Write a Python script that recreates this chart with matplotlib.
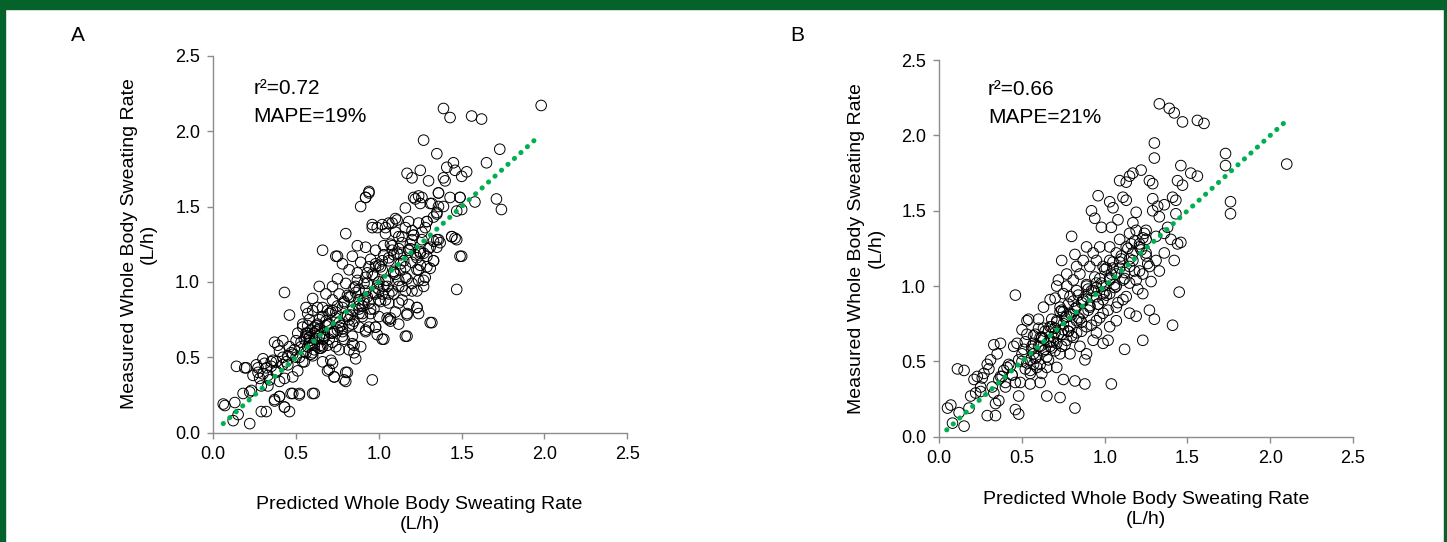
import matplotlib
matplotlib.use('Agg')
import matplotlib.pyplot as plt
from matplotlib.patches import Rectangle

plt.rcParams['font.family'] = ['Liberation Sans', 'DejaVu Sans']

# panel A: predicted vs measured (L/h)
pred_a = [1.39, 1.43, 1.56, 1.62, 1.98, 1.27, 1.73, 1.35, 1.65, 1.45, 1.41, 1.46, 1.53, 1.50,
          1.17, 1.25, 1.20, 1.30, 1.39, 1.40, 1.36, 1.43, 1.49, 1.71, 1.74, 1.58, 1.50, 1.22,
          1.26, 1.25, 1.31, 1.16, 1.36, 1.35, 1.33, 0.94, 0.92, 0.89, 1.47, 1.49, 1.44, 1.47,
          1.32, 0.80, 0.66, 0.75, 0.43, 0.46, 0.14, 0.19, 0.06, 0.13, 0.12, 0.22, 0.15, 0.22,
          0.23, 0.29, 0.32, 0.46, 0.43, 0.37, 0.40, 0.47, 0.52, 0.61, 0.80, 0.73, 0.81, 0.69,
          0.72, 0.96, 1.02, 1.06, 1.07, 1.17, 1.12, 1.17, 1.24, 1.23, 0.99, 0.94, 0.85, 0.89,
          0.85,
          0.20, 0.26, 0.30, 0.36, 0.37, 0.42, 0.40, 0.45, 0.49, 0.51, 0.54, 0.56, 0.60, 0.60,
          0.64, 0.66, 0.70, 0.73, 0.79, 0.80, 0.71, 0.76, 0.84, 0.86, 0.92, 0.98, 0.55, 0.51,
          0.48, 0.40, 0.34, 0.30, 0.24, 0.27, 0.32, 0.38, 0.43, 0.33, 0.37, 0.40, 0.43, 0.48,
          0.52, 0.60, 0.07, 0.18, 0.57, 0.60, 0.66, 0.64, 0.69, 0.74, 0.78, 0.82, 0.88, 0.57,
          0.62, 0.57, 0.46, 0.39,
          0.92, 0.94, 1.21, 1.24, 1.36, 1.49, 1.32, 1.35, 1.39, 1.47, 1.29, 1.24, 1.18, 1.11,
          1.06, 1.02, 0.96, 0.99, 1.04, 1.10, 1.14, 1.16, 1.21, 1.26, 1.33, 1.36, 1.35, 1.44,
          1.46, 1.50, 0.74, 0.87, 0.92, 0.98, 1.03, 1.08, 1.12, 1.18, 1.25, 1.29, 1.33, 1.31,
          1.25, 1.20, 1.13, 1.06, 1.00, 0.95, 0.89, 0.84, 0.78, 0.82, 0.87, 0.92, 0.97, 1.02,
          1.09, 1.16, 1.24, 1.28, 1.27, 1.20, 1.14, 1.08, 1.03, 0.98, 0.92, 0.86, 0.80, 0.75,
          0.72, 0.76, 0.82, 0.88, 0.94, 1.00, 1.06, 1.12, 1.18, 1.23, 1.17, 1.10, 1.05, 1.07,
          1.00, 0.95, 0.90, 0.84, 0.78, 0.72, 0.68, 0.64, 0.60, 0.56, 0.63, 0.69, 0.66, 0.58,
          0.54, 0.61, 0.70, 0.76, 0.82, 0.88, 0.92, 0.98, 1.03, 1.16, 1.31, 0.72, 0.78, 0.84,
          0.64, 0.56, 0.58, 0.66, 0.74, 0.82, 0.53, 0.60,
          1.20, 1.12, 1.18, 1.25, 1.31, 1.33, 1.29, 1.23, 1.20, 1.27, 1.16, 1.23, 1.12, 1.09,
          1.04, 1.14, 1.04, 0.96, 1.08, 1.10, 1.29, 1.20, 1.35, 1.37,
          0.62, 0.65, 0.70, 0.58, 0.53, 0.48, 0.44, 0.35, 0.31, 0.27, 0.67, 0.75, 0.85, 0.90,
          0.97, 1.02, 0.88, 0.79, 0.68, 0.59, 0.50, 0.42, 0.56, 0.61, 0.71, 0.81, 0.91, 1.00,
          1.05, 1.13, 0.63, 0.73, 0.83, 0.93, 0.98, 1.09, 0.55, 0.47, 0.38, 0.29,
          0.52, 0.55, 0.58, 0.61, 0.63, 0.66, 0.68, 0.71, 0.74, 0.77, 0.79, 0.83, 0.86, 0.88,
          0.91, 0.93, 0.96, 0.99, 1.01, 1.04, 1.06, 1.09, 1.11, 1.15, 1.19, 1.22, 1.26, 1.30,
          0.50, 0.54, 0.57, 0.59, 0.62, 0.65, 0.67, 0.70, 0.72, 0.75, 0.78, 0.81, 0.84, 0.87,
          0.90, 0.93, 0.95, 0.98, 1.01, 1.03, 1.06, 1.08, 1.12, 1.14, 1.17, 1.21, 1.24, 1.28,
          0.58, 0.61, 0.64, 0.67, 0.69, 0.72, 0.76, 0.79, 0.81, 0.85, 0.88, 0.91, 0.94, 0.97,
          1.00, 1.02, 1.05, 1.07, 1.10, 1.13, 1.16, 1.19, 1.23, 1.27, 0.45, 0.42, 0.38, 0.35,
          0.33, 0.28]
meas_a = [2.15, 2.09, 2.10, 2.08, 2.17, 1.94, 1.88, 1.85, 1.79, 1.79, 1.76, 1.74, 1.73, 1.70,
          1.72, 1.74, 1.69, 1.67, 1.69, 1.67, 1.59, 1.56, 1.56, 1.55, 1.48, 1.53, 1.48, 1.55,
          1.56, 1.52, 1.52, 1.49, 1.50, 1.45, 1.43, 1.59, 1.56, 1.50, 0.95, 1.17, 1.30, 1.28,
          0.73, 1.32, 1.21, 1.17, 0.93, 0.78, 0.44, 0.43, 0.19, 0.20, 0.08, 0.06, 0.12, 0.27,
          0.28, 0.14, 0.14, 0.14, 0.17, 0.21, 0.24, 0.26, 0.26, 0.26, 0.34, 0.37, 0.40, 0.41,
          0.46, 0.35, 0.62, 0.75, 0.76, 0.64, 0.72, 0.78, 0.79, 0.83, 0.65, 0.70, 0.53, 0.57,
          0.58,
          0.43, 0.45, 0.49, 0.48, 0.60, 0.61, 0.54, 0.51, 0.55, 0.66, 0.70, 0.64, 0.59, 0.51,
          0.56, 0.47, 0.42, 0.37, 0.35, 0.40, 0.48, 0.55, 0.59, 0.49, 0.68, 0.70, 0.47, 0.41,
          0.37, 0.34, 0.35, 0.39, 0.38, 0.43, 0.43, 0.40, 0.36, 0.31, 0.22, 0.24, 0.17, 0.26,
          0.25, 0.26, 0.18, 0.26, 0.79, 0.81, 0.83, 0.75, 0.72, 0.76, 0.69, 0.75, 0.79, 0.57,
          0.67, 0.71, 0.57, 0.58,
          1.56, 1.60, 1.56, 1.57, 1.59, 1.56, 1.52, 1.46, 1.50, 1.47, 1.40, 1.39, 1.40, 1.41,
          1.39, 1.38, 1.38, 1.36, 1.32, 1.33, 1.30, 1.36, 1.31, 1.28, 1.27, 1.28, 1.23, 1.30,
          1.29, 1.17, 1.17, 1.24, 1.23, 1.21, 1.24, 1.24, 1.22, 1.21, 1.20, 1.17, 1.14, 1.09,
          1.11, 1.13, 1.12, 1.14, 1.11, 1.15, 1.13, 1.17, 1.12, 1.08, 1.06, 1.03, 1.04, 1.08,
          1.06, 1.03, 1.01, 1.03, 0.97, 0.94, 0.97, 0.94, 0.97, 0.92, 0.94, 0.97, 0.99, 1.02,
          0.97, 0.92, 0.90, 0.88, 0.86, 0.88, 0.86, 0.86, 0.85, 0.83, 0.79, 0.80, 0.76, 0.74,
          0.77, 0.79, 0.79, 0.81, 0.83, 0.88, 0.92, 0.97, 0.89, 0.83, 0.83, 0.81, 0.77, 0.75,
          0.72, 0.70, 0.72, 0.73, 0.71, 0.70, 0.67, 0.70, 0.62, 0.64, 0.73, 0.66, 0.64, 0.64,
          0.64, 0.66, 0.59, 0.57, 0.57, 0.55, 0.57, 0.53,
          1.28, 1.30, 1.21, 1.19, 1.23, 1.14, 1.10, 1.08, 0.99, 1.01, 0.94, 0.94, 1.01, 0.92,
          0.88, 0.88, 1.36, 1.36, 1.39, 1.42, 1.40, 1.34, 1.28, 1.26,
          0.62, 0.58, 0.62, 0.63, 0.60, 0.52, 0.47, 0.44, 0.46, 0.40, 0.66, 0.68, 0.74, 0.84,
          0.82, 0.92, 0.95, 0.87, 0.71, 0.68, 0.50, 0.45, 0.53, 0.66, 0.80, 0.78, 0.86, 0.95,
          1.01, 1.08, 0.72, 0.67, 0.90, 0.99, 1.10, 1.18, 0.62, 0.53, 0.47, 0.31,
          0.50, 0.54, 0.61, 0.55, 0.68, 0.62, 0.74, 0.66, 0.80, 0.71, 0.86, 0.78, 0.93, 0.84,
          0.99, 0.90, 1.05, 0.96, 1.10, 1.01, 1.16, 1.07, 1.19, 1.14, 1.25, 1.18, 1.33, 1.22,
          0.61, 0.47, 0.66, 0.52, 0.71, 0.56, 0.63, 0.79, 0.60, 0.84, 0.67, 0.91, 0.72, 1.01,
          0.77, 1.06, 0.82, 1.12, 0.87, 1.18, 0.92, 1.21, 0.97, 1.26, 1.02, 1.31, 1.08, 1.36,
          0.63, 0.58, 0.69, 0.64, 0.58, 0.81, 0.70, 0.62, 0.77, 0.96, 0.82, 0.88, 1.10, 0.93,
          1.00, 1.14, 0.97, 1.25, 1.05, 1.18, 1.10, 1.22, 1.16, 1.19, 0.45, 0.50, 0.41, 0.47,
          0.38, 0.36]

# panel B
pred_b = [1.33, 1.39, 1.42, 1.47, 1.56, 1.60, 1.30, 1.30, 1.73, 1.73, 2.10, 1.76, 1.76, 1.46,
          1.52, 1.56, 1.44, 1.47, 1.22, 1.17, 1.15, 1.09, 1.13, 1.27, 1.29, 1.41, 1.43, 1.11,
          1.13, 0.96, 1.03, 1.05, 0.92, 1.29, 1.32, 1.36, 1.29, 1.33, 1.43, 1.19, 1.17, 1.08,
          0.94, 0.98, 1.04, 0.80, 0.74, 0.82, 0.72, 1.45, 1.41, 1.23, 1.30, 1.27, 1.12, 1.04,
          0.88, 0.82, 0.82, 0.73, 0.65, 0.46, 0.11, 0.15, 0.05, 0.07, 0.12, 0.08, 0.15, 0.18,
          0.19, 0.22, 0.21, 0.27, 0.26, 0.29, 0.33, 0.37, 0.29, 0.34, 0.46, 0.48, 0.48, 0.34,
          0.36, 0.33, 0.40, 0.46, 0.49, 0.55, 0.61, 0.75, 0.37, 0.41, 0.31, 0.35, 0.45, 0.47,
          0.53, 0.54, 0.60, 0.50, 0.53, 0.57, 0.51, 0.48, 0.55, 0.59, 0.65, 0.71, 0.62, 0.55,
          0.65, 0.61, 0.67, 0.73, 0.79, 0.85, 0.89, 0.88, 0.93, 0.95, 0.99, 1.02, 1.03, 1.07,
          1.15, 1.19, 1.23, 1.19, 1.15, 1.11, 1.07, 0.99, 0.95, 0.89, 0.83, 0.77, 0.71, 0.75,
          0.71, 0.67, 0.63, 0.67, 0.73, 0.79, 0.83, 0.87, 0.91, 0.89, 0.95, 0.99, 1.03, 1.07,
          1.11, 1.07, 1.03, 0.99, 0.95, 0.89, 0.83, 0.77, 0.79, 0.75, 0.81, 0.85, 0.91, 0.95,
          0.99, 1.03, 1.07, 1.13, 1.17, 1.21, 1.25, 1.31, 1.36, 1.40, 1.44, 1.42, 1.36, 1.31,
          1.27, 1.23, 1.33, 1.25, 1.15, 1.19, 1.25, 1.15, 1.09, 1.03, 0.97, 0.93, 0.89, 0.87,
          0.83, 0.77, 0.71, 1.23, 1.38, 1.46,
          0.58, 0.63, 0.69, 0.64, 0.57, 0.52, 0.44, 0.40, 0.70, 0.76, 0.86, 0.92, 0.97, 1.01,
          0.61, 0.68, 0.74, 0.81, 0.56, 0.50, 0.43, 0.38, 0.32, 0.25, 0.60, 0.66, 0.78, 0.84,
          0.90, 0.96, 1.00, 1.05, 1.10, 1.14, 0.70, 0.75, 0.80, 0.86, 0.62, 0.57, 1.18, 1.21,
          0.50, 0.53, 0.56, 0.59, 0.62, 0.64, 0.66, 0.69, 0.71, 0.74, 0.77, 0.79, 0.82, 0.85,
          0.87, 0.90, 0.93, 0.96, 0.98, 1.01, 1.04, 1.06, 1.09, 1.12, 1.15, 1.18, 1.22, 1.26,
          0.52, 0.55, 0.58, 0.61, 0.63, 0.66, 0.68, 0.70, 0.73, 0.76, 0.78, 0.81, 0.84, 0.86,
          0.89, 0.92, 0.94, 0.97, 1.00, 1.02, 1.05, 1.08, 1.10, 1.13, 1.16, 1.20, 1.24, 1.28,
          0.60, 0.63, 0.67, 0.70, 0.72, 0.75, 0.78, 0.80, 0.83, 0.87, 0.91, 0.95, 0.99, 1.03,
          1.06, 1.09, 1.12, 1.17, 1.21, 1.25, 0.42, 0.44, 0.39, 0.36, 0.30, 0.25, 0.23, 0.57,
          0.68, 0.74]
meas_b = [2.21, 2.18, 2.15, 2.09, 2.10, 2.08, 1.95, 1.85, 1.88, 1.80, 1.81, 1.56, 1.48, 1.80,
          1.75, 1.73, 1.70, 1.67, 1.77, 1.75, 1.73, 1.70, 1.69, 1.70, 1.68, 1.59, 1.57, 1.59,
          1.57, 1.60, 1.56, 1.52, 1.50, 1.58, 1.53, 1.54, 1.50, 1.46, 1.48, 1.49, 1.42, 1.44,
          1.45, 1.39, 1.39, 1.33, 1.17, 1.21, 1.04, 0.96, 0.74, 0.64, 0.78, 0.84, 0.58, 0.35,
          0.35, 0.37, 0.19, 0.26, 0.27, 0.94, 0.45, 0.44, 0.19, 0.21, 0.16, 0.09, 0.07, 0.19,
          0.27, 0.29, 0.38, 0.42, 0.39, 0.48, 0.61, 0.62, 0.14, 0.14, 0.18, 0.15, 0.27, 0.22,
          0.24, 0.29, 0.33, 0.36, 0.36, 0.35, 0.36, 0.38, 0.40, 0.46, 0.51, 0.55, 0.60, 0.62,
          0.77, 0.78, 0.78, 0.71, 0.68, 0.62, 0.58, 0.51, 0.51, 0.46, 0.46, 0.46, 0.42, 0.42,
          0.53, 0.60, 0.60, 0.55, 0.55, 0.60, 0.55, 0.51, 0.64, 0.69, 0.62, 0.64, 0.73, 0.77,
          0.82, 0.80, 0.95, 1.04, 1.02, 0.91, 0.86, 0.82, 0.77, 0.73, 0.69, 0.64, 0.62, 0.71,
          0.77, 0.73, 0.86, 0.91, 0.86, 0.82, 0.86, 0.82, 0.86, 0.93, 0.93, 0.91, 0.95, 1.00,
          1.04, 1.08, 1.04, 1.00, 1.02, 1.00, 0.97, 1.00, 0.93, 0.95, 1.04, 1.08, 1.13, 1.17,
          1.13, 1.17, 1.22, 1.26, 1.22, 1.26, 1.31, 1.33, 1.35, 1.31, 1.28, 1.17, 1.22, 1.17,
          1.13, 1.08, 1.10, 1.22, 1.13, 1.37, 1.37, 1.35, 1.31, 1.26, 1.26, 1.22, 1.26, 1.17,
          1.13, 1.08, 1.00, 1.32, 1.39, 1.29,
          0.52, 0.57, 0.66, 0.70, 0.48, 0.45, 0.41, 0.36, 0.69, 0.79, 0.89, 0.97, 1.05, 1.12,
          0.66, 0.73, 0.84, 0.90, 0.58, 0.50, 0.47, 0.40, 0.33, 0.30, 0.72, 0.63, 0.70, 0.79,
          0.98, 0.88, 0.96, 1.12, 1.18, 1.25, 0.92, 0.83, 0.67, 0.76, 0.66, 0.55, 1.30, 1.10,
          0.55, 0.49, 0.60, 0.53, 0.66, 0.58, 0.70, 0.63, 0.76, 0.68, 0.80, 0.73, 0.85, 0.78,
          0.90, 0.84, 0.97, 0.88, 1.02, 0.94, 1.08, 0.99, 1.12, 1.05, 1.18, 1.10, 1.24, 1.15,
          0.63, 0.44, 0.68, 0.48, 0.72, 0.51, 0.78, 0.57, 0.83, 0.61, 0.88, 0.66, 0.94, 0.70,
          1.01, 0.74, 1.06, 0.79, 1.11, 0.84, 1.16, 0.89, 1.20, 0.93, 1.28, 0.98, 1.35, 1.03,
          0.60, 0.65, 0.63, 0.72, 0.68, 0.75, 0.70, 0.81, 0.77, 0.91, 0.87, 0.99, 0.95, 1.05,
          1.01, 1.16, 1.09, 1.17, 1.28, 1.20, 0.48, 0.41, 0.44, 0.38, 0.45, 0.33, 0.40, 0.67,
          0.59, 0.60]

# identity line end points
line_a = [0.06, 1.96]
line_b = [0.045, 2.10]

ticks = [0.0, 0.5, 1.0, 1.5, 2.0, 2.5]
stats_a = ['r\u00b2=0.72', 'MAPE=19%']
stats_b = ['r\u00b2=0.66', 'MAPE=21%']

fig = plt.figure(figsize=(14.47, 5.42), dpi=100)

ax_a = fig.add_axes([0.1474, 0.2017, 0.2861, 0.6955])
ax_b = fig.add_axes([0.6491, 0.1943, 0.2859, 0.6947])

for ax, xs, ys, ln, st, tx, ty in [(ax_a, pred_a, meas_a, line_a, stats_a, 0.097, (0.914, 0.840)),
                                   (ax_b, pred_b, meas_b, line_b, stats_b, 0.118, (0.921, 0.849))]:
    ax.scatter(xs, ys, s=58, facecolors='none', edgecolors='black', linewidths=0.7, zorder=2)
    ax.plot(ln, ln, color='#00b050', lw=3.6, dashes=(0.05, 1.7), dash_capstyle='round',
            zorder=3)
    ax.set_xlim(0, 2.5)
    ax.set_ylim(0, 2.5)
    ax.set_xticks(ticks)
    ax.set_yticks(ticks)
    ax.set_xticklabels(['%.1f' % t for t in ticks])
    ax.set_yticklabels(['%.1f' % t for t in ticks])
    for side in ['top', 'right']:
        ax.spines[side].set_visible(False)
    for side in ['left', 'bottom']:
        ax.spines[side].set_color('#8c8c8c')
        ax.spines[side].set_linewidth(1.0)
    ax.tick_params(direction='out', length=4.5, width=1.0, color='#8c8c8c',
                   labelsize=13, pad=5)
    ax.text(tx, ty[0], st[0], transform=ax.transAxes, fontsize=15, va='center', ha='left')
    ax.text(tx, ty[1], st[1], transform=ax.transAxes, fontsize=15, va='center', ha='left')

fig.text(0.054, 0.935, 'A', fontsize=15, ha='center', va='center')
fig.text(0.551, 0.935, 'B', fontsize=15, ha='center', va='center')

fig.text(0.096, 0.55, 'Measured Whole Body Sweating Rate\n(L/h)', rotation=90,
         fontsize=14, ha='center', va='center', multialignment='center')
fig.text(0.599, 0.542, 'Measured Whole Body Sweating Rate\n(L/h)', rotation=90,
         fontsize=14, ha='center', va='center', multialignment='center')
fig.text(0.290, 0.0507, 'Predicted Whole Body Sweating Rate\n(L/h)',
         fontsize=14, ha='center', va='center', multialignment='center')
fig.text(0.792, 0.060, 'Predicted Whole Body Sweating Rate\n(L/h)',
         fontsize=14, ha='center', va='center', multialignment='center')

# dark green frame
green = '#05622a'
fig.patches.append(Rectangle((0, 1 - 9 / 542), 1, 9 / 542, transform=fig.transFigure,
                             color=green, zorder=10))
fig.patches.append(Rectangle((0, 0), 5 / 1447, 1, transform=fig.transFigure,
                             color=green, zorder=10))
fig.patches.append(Rectangle((1 - 3 / 1447, 0), 3 / 1447, 1, transform=fig.transFigure,
                             color=green, zorder=10))

fig.savefig('out.png', dpi=100)
